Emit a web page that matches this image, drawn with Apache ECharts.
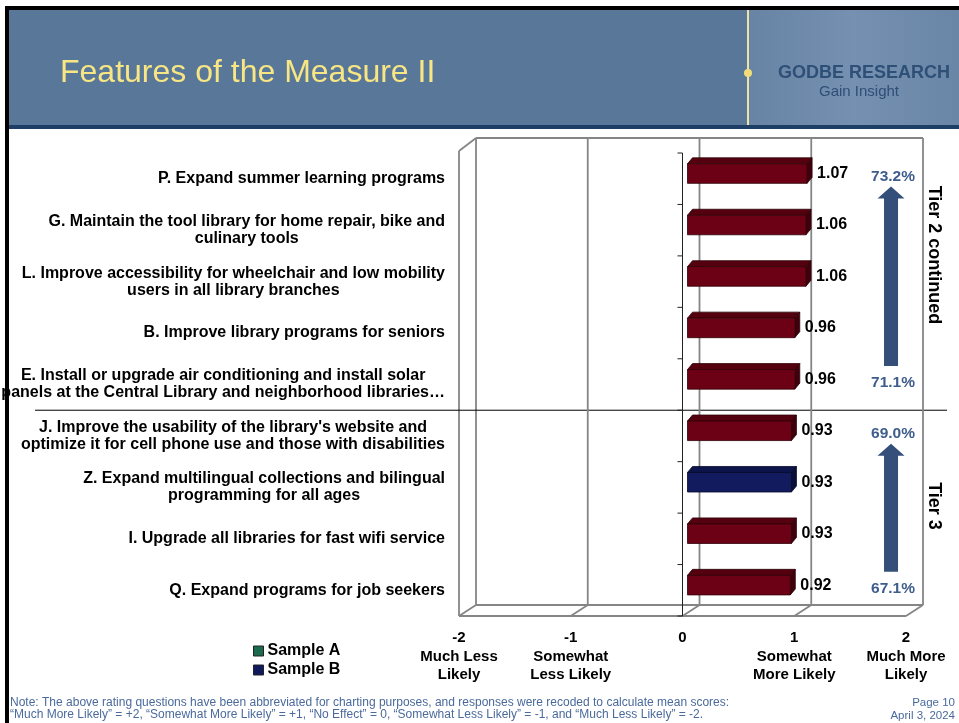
<!DOCTYPE html>
<html>
<head>
<meta charset="utf-8">
<title>Features of the Measure II</title>
<script src="https://cdn.jsdelivr.net/npm/echarts@6/dist/echarts.min.js"></script>
<style>
    html, body { margin: 0; padding: 0; background: #fff; }
    #main { width: 959px; height: 723px; }
</style>
</head>
<body>
<div id="main"></div>
<script>
    // features, top to bottom
    var categories = [
        'P. Expand summer learning programs',
        'G. Maintain the tool library for home repair, bike and\nculinary tools',
        'L. Improve accessibility for wheelchair and low mobility\nusers in all library branches',
        'B. Improve library programs for seniors',
        'E. Install or upgrade air conditioning and install solar\npanels at the Central Library and neighborhood libraries…',
        "J. Improve the usability of the library's website and\noptimize it for cell phone use and those with disabilities",
        'Z. Expand multilingual collections and bilingual\nprogramming for all ages',
        'I. Upgrade all libraries for fast wifi service',
        'Q. Expand programs for job seekers'
    ];
    var scores = [1.07, 1.06, 1.06, 0.96, 0.96, 0.93, 0.93, 0.93, 0.92];
    var samples = ['A', 'A', 'A', 'A', 'A', 'A', 'B', 'A', 'A'];

    var xTicks = [-2, -1, 0, 1, 2];
    var xTickNames = ['Much Less\nLikely', 'Somewhat\nLess Likely', '', 'Somewhat\nMore Likely', 'Much More\nLikely'];

    // percentages shown at the right, by category index
    var pctCats = [0, 4, 5, 8];
    var pctLabels = ['73.2%', '71.1%', '69.0%', '67.1%'];
    // arrows point from the bottom category of a tier up to its top one
    var arrowFrom = [4, 8];
    var arrowTo = [0, 5];
    var tierBreak = 5;     // separator above this category
    var tierX = 1.866;     // x value where the percentages sit

    var FONT = '"Liberation Sans", Arial, sans-serif';
    var DX = 17, DY = -11;  // depth of the 3d box

    var barColors = {
        'Sample A': {front: '#6c0014', top: '#55000f', side: '#40000b', edge: '#2e0008'},
        'Sample B': {front: '#111b5e', top: '#0c1449', side: '#080f39', edge: '#050a28'}
    };

    function dataFor(s) {
        var out = [];
        for (var i = 0; i < scores.length; i++) {
            if (samples[i] === s) out.push([scores[i], i]);
        }
        return out;
    }

    function ln(x1, y1, x2, y2, color, w) {
        return {type: 'line', shape: {x1: x1, y1: y1, x2: x2, y2: y2},
            style: {stroke: color, lineWidth: w}};
    }

    // walls, floor, zero axis and separator
    function renderFrame(params, api) {
        var cs = params.coordSys;
        var v = api.value(0);
        var band = api.size([0, 1])[1];
        var fx = api.coord([v, 0])[0];
        var top = cs.y - 2, bottom = cs.y + cs.height;
        var xEnd = cs.x + cs.width;
        var wall = '#858585';
        var kids = [
            ln(fx + DX, top + DY - 2, fx + DX, bottom + DY, wall, 1.8),
            ln(fx, bottom, fx + DX, bottom + DY, wall, 1.8)
        ];
        if (params.dataIndex === 0) {
            kids.push(ln(fx, top, fx, bottom, wall, 1.8));
            kids.push(ln(fx, top, fx + DX, top + DY - 2, wall, 1.8));
            kids.push(ln(fx, bottom, xEnd, bottom, wall, 1.8));
            kids.push(ln(fx + DX, bottom + DY, xEnd + DX, bottom + DY, wall, 1.8));
            kids.push(ln(fx + DX, top + DY - 2, xEnd + DX, top + DY - 2, wall, 1.8));
            var sy = cs.y + tierBreak * band;
            kids.push(ln(35, sy, xEnd + 41, sy, '#000', 1));
        }
        if (v === 0) {
            kids.push(ln(fx, cs.y, fx, bottom, '#222', 1));
            for (var i = 0; i <= categories.length; i++) {
                var ty = cs.y + i * band;
                kids.push(ln(fx - 5, ty, fx, ty, '#222', 1));
            }
        }
        return {type: 'group', children: kids};
    }

    function renderBar(params, api) {
        var v = api.value(0), c = api.value(1);
        var p0 = api.coord([0, c]), p1 = api.coord([v, c]);
        var band = api.size([0, 1])[1];
        var h = band * 0.38;
        var yc = p0[1] - band * 0.1;
        var x0 = p0[0] + 5, x1 = p1[0] + 5;
        var y0 = yc - h / 2, y1 = yc + h / 2;
        var bx = 5, by = -6;
        var col = barColors[params.seriesName];
        return {
            type: 'group',
            children: [
                {type: 'polygon', shape: {points: [[x0, y0], [x0 + bx, y0 + by], [x1 + bx, y0 + by], [x1, y0]]},
                    style: {fill: col.top, stroke: col.edge, lineWidth: 0.8}},
                {type: 'polygon', shape: {points: [[x1, y0], [x1 + bx, y0 + by], [x1 + bx, y1 + by], [x1, y1]]},
                    style: {fill: col.side, stroke: col.edge, lineWidth: 0.8}},
                {type: 'rect', shape: {x: x0, y: y0, width: x1 - x0, height: h},
                    style: {fill: col.front, stroke: col.edge, lineWidth: 0.8}},
                {type: 'text', style: {text: v.toFixed(2), x: x1 + 10, y: yc, verticalAlign: 'middle',
                    font: 'bold 16px ' + FONT, fill: '#000'}}
            ]
        };
    }

    function renderPct(params, api) {
        var p = api.coord([api.value(0), api.value(1)]);
        var band = api.size([0, 1])[1];
        return {type: 'text', style: {text: pctLabels[params.dataIndex], x: p[0] + 2, y: p[1] - band * 0.04,
            align: 'center', verticalAlign: 'middle', font: 'bold 15.5px ' + FONT, fill: '#3f5d8c'}};
    }

    function renderArrow(params, api) {
        var x = api.coord([api.value(0), 0])[0];
        var band = api.size([0, 1])[1];
        var bottom = api.coord([api.value(0), api.value(1)])[1] - band * 0.36;
        var tip = api.coord([api.value(0), api.value(2)])[1] + band * 0.15;
        var sw = 7, hw = 13.5, hl = 12;
        return {type: 'polygon', shape: {points: [
            [x - sw, bottom], [x - sw, tip + hl], [x - hw, tip + hl], [x, tip],
            [x + hw, tip + hl], [x + sw, tip + hl], [x + sw, bottom]
        ]}, style: {fill: '#34507a'}};
    }

    var myChart = echarts.init(document.getElementById('main'), null, {renderer: 'canvas'});
    myChart.setOption({
        animation: false,
        backgroundColor: '#fff',
        grid: {
            left: 459,
            right: 53,
            top: 153,
            bottom: 107,
            outerBoundsMode: 'none'
        },
        legend: {
            data: ['Sample A', 'Sample B'],
            orient: 'vertical',
            left: 248,
            top: 638,
            icon: 'rect',
            itemWidth: 10,
            itemHeight: 10,
            itemGap: 3,
            itemStyle: {borderColor: '#222', borderWidth: 1},
            textStyle: {fontFamily: FONT, fontSize: 16, fontWeight: 'bold', color: '#000', lineHeight: 16, padding: [0, 0, 0, -1]}
        },
        xAxis: {
            type: 'value',
            min: -2,
            max: 2,
            interval: 1,
            axisLine: {show: false},
            axisTick: {show: false},
            splitLine: {show: false},
            axisLabel: {
                margin: 13,
                formatter: function (v) {
                    var name = xTickNames[xTicks.indexOf(v)];
                    var s = '{n|' + v + '}';
                    if (name) {
                        s += '\n' + name.split('\n').map(function (t) { return '{t|' + t + '}'; }).join('\n');
                    }
                    return s;
                },
                rich: {
                    n: {fontFamily: FONT, fontSize: 15, fontWeight: 'bold', color: '#000', lineHeight: 18.5},
                    t: {fontFamily: FONT, fontSize: 15, fontWeight: 'bold', color: '#000', lineHeight: 18.5}
                }
            }
        },
        yAxis: {
            type: 'category',
            data: categories,
            inverse: true,
            axisLine: {show: false},
            axisTick: {show: false},
            splitLine: {show: false},
            axisLabel: {
                interval: 0,
                margin: 14,
                formatter: function (v) {
                    return v.split('\n').map(function (t) { return '{c|' + t + '}'; }).join('\n');
                },
                rich: {
                    c: {align: 'center', fontFamily: FONT, fontSize: 16, fontWeight: 'bold', color: '#000', lineHeight: 17}
                }
            }
        },
        series: [
            {
                name: 'frame',
                type: 'custom',
                renderItem: renderFrame,
                data: xTicks.map(function (v) { return [v, 0]; }),
                encode: {x: 0, y: 1},
                silent: true
            },
            {
                name: 'Sample A',
                type: 'custom',
                renderItem: renderBar,
                itemStyle: {color: '#1c6a4e'},
                data: dataFor('A'),
                encode: {x: 0, y: 1}
            },
            {
                name: 'Sample B',
                type: 'custom',
                renderItem: renderBar,
                itemStyle: {color: '#0e1a5c'},
                data: dataFor('B'),
                encode: {x: 0, y: 1}
            },
            {
                name: 'pct',
                type: 'custom',
                renderItem: renderPct,
                data: pctCats.map(function (c) { return [tierX, c]; }),
                encode: {x: 0, y: 1},
                silent: true
            },
            {
                name: 'arrows',
                type: 'custom',
                renderItem: renderArrow,
                data: arrowFrom.map(function (f, i) { return [tierX, f, arrowTo[i]]; }),
                encode: {x: 0, y: 1},
                silent: true
            }
        ],
        graphic: [
            // slide frame and header
            {type: 'rect', left: 5, top: 6, shape: {width: 954, height: 4}, style: {fill: '#000'}},
            {type: 'rect', left: 5, top: 6, shape: {width: 4, height: 717}, style: {fill: '#000'}},
            {type: 'rect', left: 9, top: 10, shape: {width: 950, height: 115}, style: {fill: '#587799'}},
            {type: 'rect', left: 749, top: 10, shape: {width: 210, height: 115},
                style: {fill: new echarts.graphic.LinearGradient(0, 0, 1, 0, [
                    {offset: 0, color: '#6884a5'}, {offset: 0.5, color: '#7590b0'}, {offset: 1, color: '#6a86a7'}])}},
            {type: 'rect', left: 747, top: 10, shape: {width: 2, height: 115}, style: {fill: '#ece3a6'}},
            {type: 'circle', shape: {cx: 748, cy: 73, r: 4}, style: {fill: '#f2dc78'}},
            {type: 'rect', left: 9, top: 125, shape: {width: 950, height: 4}, style: {fill: '#1d3f66'}},
            {type: 'text', x: 60, y: 73, style: {text: 'Features of the Measure II', font: '32px ' + FONT,
                fill: '#f8e684', verticalAlign: 'middle'}},
            {type: 'text', x: 864, y: 73, style: {text: 'GODBE RESEARCH', font: 'bold 18px ' + FONT,
                fill: '#2e4f76', align: 'center', verticalAlign: 'middle'}},
            {type: 'text', x: 859, y: 92, style: {text: 'Gain Insight', font: '15px ' + FONT,
                fill: '#2e4f76', align: 'center', verticalAlign: 'middle'}},
            // tier names
            {type: 'text', x: 934, y: 255, rotation: -Math.PI / 2, style: {text: 'Tier 2 continued',
                font: 'bold 18px ' + FONT, fill: '#000', align: 'center', verticalAlign: 'middle'}},
            {type: 'text', x: 934, y: 506, rotation: -Math.PI / 2, style: {text: 'Tier 3',
                font: 'bold 18px ' + FONT, fill: '#000', align: 'center', verticalAlign: 'middle'}},
            // footer
            {type: 'text', x: 10, y: 703, style: {text: 'Note: The above rating questions have been abbreviated for charting purposes, and responses were recoded to calculate mean scores:',
                font: '12px ' + FONT, fill: '#4a6a9b', verticalAlign: 'middle'}},
            {type: 'text', x: 10, y: 715, style: {text: '\u201cMuch More Likely\u201d = +2, \u201cSomewhat More Likely\u201d = +1, \u201cNo Effect\u201d = 0, \u201cSomewhat Less Likely\u201d = -1, and \u201cMuch Less Likely\u201d = -2.',
                font: '12px ' + FONT, fill: '#4a6a9b', verticalAlign: 'middle'}},
            {type: 'text', x: 955, y: 703, style: {text: 'Page 10', font: '11.5px ' + FONT, fill: '#4a6a9b',
                align: 'right', verticalAlign: 'middle'}},
            {type: 'text', x: 955, y: 716, style: {text: 'April 3, 2024', font: '11.5px ' + FONT, fill: '#4a6a9b',
                align: 'right', verticalAlign: 'middle'}}
        ]
    });
</script>
</body>
</html>
